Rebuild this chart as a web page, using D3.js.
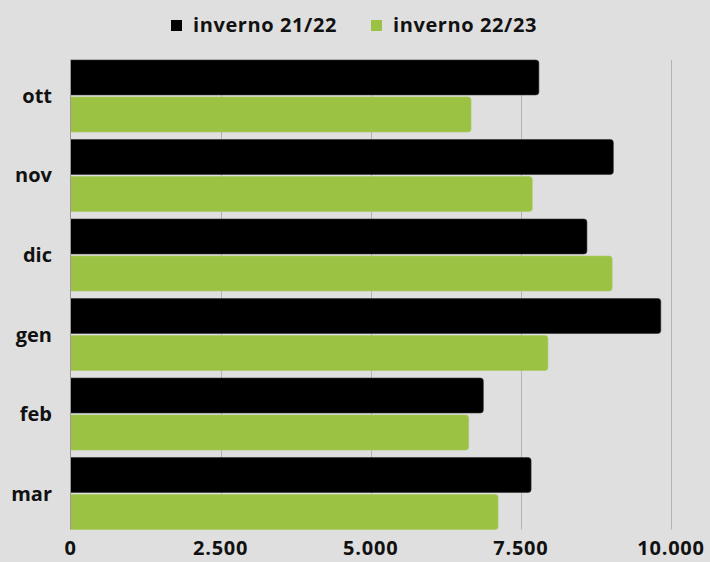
<!DOCTYPE html>
<html>
<head>
<meta charset="utf-8">
<script src="https://cdn.jsdelivr.net/npm/d3@7"></script>
<style>
  body { margin: 0; background: #dfdfdf; }
  svg { display: block; font-family: "Open Sans", Lato, sans-serif; }
</style>
</head>
<body>
<div id="chart"></div>
<script>
// Data
const months = ['ott', 'nov', 'dic', 'gen', 'feb', 'mar'];
const seriesNames = ['inverno 21/22', 'inverno 22/23'];
const inverno2122 = [7800, 9040, 8600, 9830, 6875, 7670];
const inverno2223 = [6670, 7690, 9020, 7950, 6630, 7120];
const tickValues = [0, 2500, 5000, 7500, 10000];
const colors = ['#000000', '#9bc243'];

const width = 710, height = 562;
const svg = d3.select('#chart').append('svg')
    .attr('width', width)
    .attr('height', height);

svg.append('rect')
    .attr('width', width)
    .attr('height', height)
    .attr('fill', '#dfdfdf');

const x = d3.scaleLinear().domain([0, 10000]).range([70.5, 671]);
const y = d3.scaleBand().domain(months).range([60, 529.5]).paddingInner(0.095).paddingOuter(0);
const ySub = d3.scaleBand().domain(seriesNames).range([0, y.bandwidth()]).paddingInner(0.057);

// Gridlines
svg.append('g')
    .selectAll('line')
    .data(tickValues.slice(1))
    .join('line')
    .attr('x1', d => Math.round(x(d)) + 0.5)
    .attr('x2', d => Math.round(x(d)) + 0.5)
    .attr('y1', 60)
    .attr('y2', 529.5)
    .attr('stroke', '#b3b3b3')
    .attr('stroke-width', 1);

// Bars
const rows = months.map((m, i) => ({ month: m, values: [inverno2122[i], inverno2223[i]] }));
const groups = svg.append('g')
    .selectAll('g')
    .data(rows)
    .join('g')
    .attr('transform', d => `translate(0,${y(d.month)})`);

groups.selectAll('path')
    .data(d => d.values.map((v, j) => ({ series: seriesNames[j], value: v, color: colors[j] })))
    .join('path')
    .attr('d', d => {
        const x0 = x(0), x1 = x(d.value), y0 = ySub(d.series), h = ySub.bandwidth(), r = 3;
        return `M${x0},${y0}H${x1 - r}Q${x1},${y0} ${x1},${y0 + r}V${y0 + h - r}Q${x1},${y0 + h} ${x1 - r},${y0 + h}H${x0}Z`;
    })
    .attr('fill', d => d.color)
    .attr('stroke', d => d.color === '#000000' ? '#333' : '#a8c95c')
    .attr('stroke-width', 0.6);

// Zero axis line
svg.append('line')
    .attr('x1', 70.5).attr('x2', 70.5)
    .attr('y1', 60).attr('y2', 529.5)
    .attr('stroke', '#999')
    .attr('stroke-width', 1);

// Category labels
svg.append('g')
    .selectAll('text')
    .data(months)
    .join('text')
    .attr('x', 52)
    .attr('y', d => y(d) + y.bandwidth() / 2)
    .attr('dy', '0.35em')
    .attr('text-anchor', 'end')
    .attr('font-size', 20)
    .attr('font-weight', 700)
    .attr('fill', '#111')
    .text(d => d);

// X tick labels
const fmt = d3.formatLocale({ decimal: ',', thousands: '.', grouping: [3], currency: ['', '€'] }).format(',');
svg.append('g')
    .selectAll('text')
    .data(tickValues)
    .join('text')
    .attr('x', d => x(d))
    .attr('y', 555)
    .attr('text-anchor', 'middle')
    .attr('font-size', 20)
    .attr('font-weight', 700)
    .attr('letter-spacing', 0.8)
    .attr('fill', '#111')
    .text(d => fmt(d));

// Legend
const legendItems = [
    { name: seriesNames[0], color: colors[0], x: 171 },
    { name: seriesNames[1], color: colors[1], x: 371 }
];
const legend = svg.append('g')
    .selectAll('g')
    .data(legendItems)
    .join('g')
    .attr('transform', d => `translate(${d.x},0)`);

legend.append('rect')
    .attr('y', 20)
    .attr('width', 11)
    .attr('height', 11)
    .attr('fill', d => d.color);

legend.append('text')
    .attr('x', 22)
    .attr('y', 31.5)
    .attr('font-size', 20)
    .attr('font-weight', 700)
    .attr('letter-spacing', 0.6)
    .attr('fill', '#111')
    .text(d => d.name);
</script>
</body>
</html>
